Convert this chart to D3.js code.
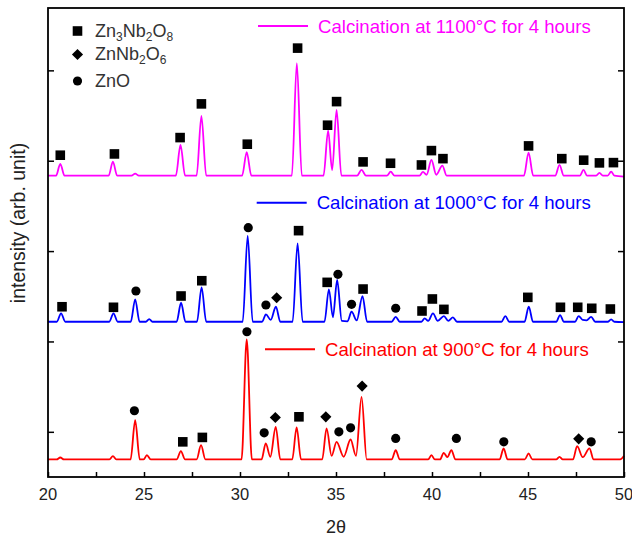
<!DOCTYPE html>
<meta charset="utf-8">
<script src="https://d3js.org/d3.v7.min.js"></script>
<style>
  body { margin: 0; background: #fff; }
  text { font-family: "Liberation Sans", Arial, sans-serif; }
</style>
<div id="xrd"></div>
<script>

// ---- data ----
// pattern vertices: [2theta, intensity above the pattern's own baseline]
var pattern900 = [[20,0],[20.45,0],[20.64,22],[20.83,0],[23.2,0],[23.38,37],[23.56,0],
  [24.3,0],[24.54,435],[24.78,0],[24.98,0],[25.15,48],[25.35,0],[26.7,0],[26.92,92],[27.14,0],
  [27.74,0],[27.97,158],[28.2,0],[30.08,0],[30.35,1328],[30.62,0],[31.12,0],[31.34,177],[31.58,30],
  [31.86,361],[32.1,0],[32.72,0],[32.95,354],[33.18,0],[34.28,0],[34.51,343],[34.77,40],[35.03,195],
  [35.4,30],[35.76,221],[36.04,40],[36.33,693],[36.6,0],[37.9,0],[38.11,103],[38.32,0],
  [39.8,0],[39.97,48],[40.15,0],[40.42,0],[40.61,73],[40.8,25],[41.01,103],[41.22,0],
  [43.52,0],[43.73,122],[43.94,0],[44.83,0],[45.03,66],[45.23,0],[46.47,0],[46.64,29],[46.81,0],
  [47.34,0],[47.56,147],[47.85,25],[48.2,122],[48.42,0],[49.8,0],[50,40]];

var pattern1000 = [[20,0],[20.46,0],[20.68,93],[20.9,0],[23.19,0],[23.41,93],[23.63,0],
  [24.31,0],[24.54,248],[24.77,0],[25.1,0],[25.27,30],[25.44,0],[26.7,0],[26.93,210],[27.16,0],
  [27.76,0],[28.0,381],[28.24,0],[30.14,0],[30.4,949],[30.66,0],[31.15,0],[31.35,82],[31.6,20],
  [31.87,166],[32.1,0],[32.74,0],[33.0,868],[33.26,0],[34.4,0],[34.63,359],[34.84,50],[35.06,462],
  [35.3,10],[35.6,5],[35.81,111],[36.08,15],[36.38,284],[36.62,0],[37.9,0],[38.11,55],[38.32,0],
  [39.45,0],[39.62,38],[39.8,10],[40.05,93],[40.3,10],[40.62,63],[40.85,10],[41.09,49],[41.3,0],
  [43.62,0],[43.82,63],[44.02,0],[44.82,0],[45.04,166],[45.26,0],[46.47,0],[46.67,74],[46.87,0],
  [47.45,0],[47.64,63],[47.85,20],[48.05,15],[48.29,55],[48.5,0],[49.15,0],[49.33,27],[49.5,0],[50,-5]];

var pattern1100 = [[20,0],[20.42,0],[20.64,130],[20.86,0],[23.16,0],[23.38,155],[23.6,0],
  [24.35,0],[24.54,22],[24.73,0],[26.66,0],[26.9,340],[27.14,0],[27.74,0],[27.99,660],[28.24,0],
  [30.11,0],[30.35,259],[30.59,0],[32.7,0],[32.96,1244],[33.22,0],[34.35,0],[34.59,498],[34.8,60],
  [35.03,727],[35.28,0],[36.1,0],[36.33,63],[36.56,0],[37.65,0],[37.85,44],[38.05,0],
  [39.35,0],[39.53,41],[39.72,10],[39.97,174],[40.22,10],[40.54,111],[40.76,0],
  [44.79,0],[45.03,255],[45.27,0],[46.42,0],[46.64,118],[46.86,0],[47.7,0],[47.89,63],[48.08,0],
  [48.55,0],[48.72,30],[48.9,0],[49.15,0],[49.33,44],[49.5,0],[50,-10]];

// vertical offsets of the three stacked patterns
var temperatures = ["900", "1000", "1100"];
var offsets = [694, 2218, 3835];
var colors = ["#ff0000", "#0000ff", "#ff00ff"];

// phase markers: [2theta, intensity, phase]
var marks900 = [[24.5,1233,"c"],[27.02,889,"s"],[28.04,938,"s"],[30.36,2107,"c"],[31.26,989,"c"],
  [31.84,1159,"d"],[33.07,1166,"s"],[34.47,1166,"d"],[35.15,1000,"c"],[35.76,1044,"c"],
  [36.36,1506,"d"],[38.11,927,"c"],[41.27,927,"c"],[43.74,889,"c"],[47.64,922,"d"],[48.29,889,"c"]];
var marks1000 = [[20.73,2384,"s"],[23.41,2378,"s"],[24.58,2558,"c"],[26.93,2503,"s"],[28.01,2672,"s"],
  [30.43,3259,"c"],[31.35,2403,"c"],[31.91,2484,"d"],[33.05,3226,"s"],[34.54,2654,"s"],[35.1,2743,"c"],
  [35.81,2411,"c"],[36.41,2580,"s"],[38.11,2367,"c"],[39.48,2337,"s"],[40.02,2470,"s"],[40.62,2355,"s"],
  [44.99,2488,"s"],[46.69,2378,"s"],[47.59,2378,"s"],[48.32,2367,"s"],[49.29,2359,"s"]];
var marks1100 = [[20.64,4061,"s"],[23.46,4075,"s"],[26.88,4256,"s"],[27.99,4629,"s"],[30.38,4183,"s"],
  [33.0,5246,"s"],[34.56,4393,"s"],[35.03,4654,"s"],[36.41,3987,"s"],[37.84,3972,"s"],[39.45,3953,"s"],
  [39.97,4112,"s"],[40.57,4023,"s"],[45.03,4164,"s"],[46.76,4023,"s"],[47.9,4006,"s"],[48.72,3976,"s"],
  [49.45,3979,"s"]];

var xTicks = [20, 25, 30, 35, 40, 45, 50];
var yTicks = [1000, 2000, 3000, 4000, 5000];

// ---- layout ----
var margin = {top: 8, right: 8, bottom: 61, left: 48},
    width = 632 - margin.left - margin.right,
    height = 538 - margin.top - margin.bottom;

var svg = d3.select("#xrd")
  .append("svg")
    .attr("width", 632)
    .attr("height", 538)
  .append("g")
    .attr("transform", "translate(" + margin.left + "," + margin.top + ")");

var x = d3.scaleLinear().domain([20, 50]).range([0, width]);
var y = d3.scaleLinear().domain([500, 5690]).range([height, 0]);

var patterns = [pattern900, pattern1000, pattern1100];
var marks = [marks900, marks1000, marks1100];

// patterns
patterns.forEach(function(p, i) {
  var line = d3.line()
    .x(function(d) { return x(d[0]); })
    .y(function(d) { return y(d[1] + offsets[i]); })
    .curve(d3.curveMonotoneX);
  svg.append("path")
    .datum(p)
    .attr("fill", "none")
    .attr("stroke", colors[i])
    .attr("stroke-width", 1.8)
    .attr("stroke-linejoin", "round")
    .attr("d", line);
});

// phase symbols
var symbolFor = {
  s: d3.symbol().type(d3.symbolSquare).size(92),
  d: d3.symbol().type(d3.symbolSquare).size(62),
  c: d3.symbol().type(d3.symbolCircle).size(66)
};
function placeSymbol(sel) {
  sel.attr("d", function(d) { return symbolFor[d[2]](); })
    .attr("transform", function(d) {
      return "translate(" + x(d[0]) + "," + y(d[1]) + ")" + (d[2] == "d" ? " rotate(45)" : "");
    })
    .attr("fill", "#000");
}
marks.forEach(function(m) {
  svg.append("g").selectAll("path")
    .data(m)
    .enter().append("path")
    .call(placeSymbol);
});

// axes (ticks inward, box frame)
svg.append("g")
  .attr("transform", "translate(0," + height + ")")
  .call(d3.axisBottom(x).tickValues(d3.range(20, 50.1, 2.5)).tickSizeInner(-5).tickSizeOuter(0).tickFormat(""))
  .call(function(g) { g.select(".domain").remove(); });
svg.append("g")
  .call(d3.axisLeft(y).tickValues(yTicks).tickSizeInner(-6).tickSizeOuter(0).tickFormat(""))
  .call(function(g) { g.select(".domain").remove(); });
svg.append("g")
  .attr("transform", "translate(" + width + ",0)")
  .call(d3.axisRight(y).tickValues(yTicks).tickSizeInner(-6).tickSizeOuter(0).tickFormat(""))
  .call(function(g) { g.select(".domain").remove(); });
svg.selectAll(".tick line").attr("stroke", "#000").attr("stroke-width", 1.5);

svg.append("rect")
  .attr("width", width)
  .attr("height", height)
  .attr("fill", "none")
  .attr("stroke", "#000")
  .attr("stroke-width", 1.8);

svg.append("g").selectAll("text")
  .data(xTicks)
  .enter().append("text")
    .attr("x", function(d) { return x(d); })
    .attr("y", height + 23)
    .attr("text-anchor", "middle")
    .style("font-size", "16.5px")
    .style("fill", "#222")
    .text(function(d) { return d; });

svg.append("text")
  .attr("x", width / 2)
  .attr("y", height + 56)
  .attr("text-anchor", "middle")
  .style("font-size", "18px")
  .style("fill", "#222")
  .text("2θ");

svg.append("text")
  .attr("transform", "translate(" + (25 - margin.left) + "," + (223 - margin.top) + ") rotate(-90)")
  .attr("text-anchor", "middle")
  .style("font-size", "19.5px")
  .style("fill", "#222")
  .text("intensity (arb. unit)");

// phase legend
var phases = [
  {sym: "s", parts: [["Zn", 0], ["3", 1], ["Nb", 0], ["2", 1], ["O", 0], ["8", 1]]},
  {sym: "d", parts: [["ZnNb", 0], ["2", 1], ["O", 0], ["6", 1]]},
  {sym: "c", parts: [["ZnO", 0]]}
];
var legendY = [23, 46.5, 73];
phases.forEach(function(ph, i) {
  var cx = 29.5, cy = legendY[i];
  svg.append("path")
    .attr("d", symbolFor[ph.sym]())
    .attr("transform", "translate(" + cx + "," + cy + ")" + (ph.sym == "d" ? " rotate(45)" : ""))
    .attr("fill", "#000");
  var t = svg.append("text")
    .attr("x", 47)
    .attr("y", cy + 5.5)
    .style("font-size", "18px")
    .style("fill", "#333");
  ph.parts.forEach(function(p) {
    t.append("tspan")
      .attr("baseline-shift", p[1] ? "-35%" : null)
      .style("font-size", p[1] ? "12px" : null)
      .text(p[0]);
  });
});

// temperature legend
var labelY = [349.3, 202.7, 26];
var labelX = [265, 256.7, 258];
temperatures.forEach(function(t, i) {
  var lx = labelX[i] - margin.left, ly = labelY[i] - margin.top;
  svg.append("line")
    .attr("x1", lx).attr("x2", lx + 50)
    .attr("y1", ly).attr("y2", ly)
    .attr("stroke", colors[i])
    .attr("stroke-width", 2);
  svg.append("text")
    .attr("x", lx + 60)
    .attr("y", ly + 6.5)
    .style("font-size", "18.6px")
    .style("fill", colors[i])
    .text("Calcination at " + t + "°C for 4 hours");
});

</script>
